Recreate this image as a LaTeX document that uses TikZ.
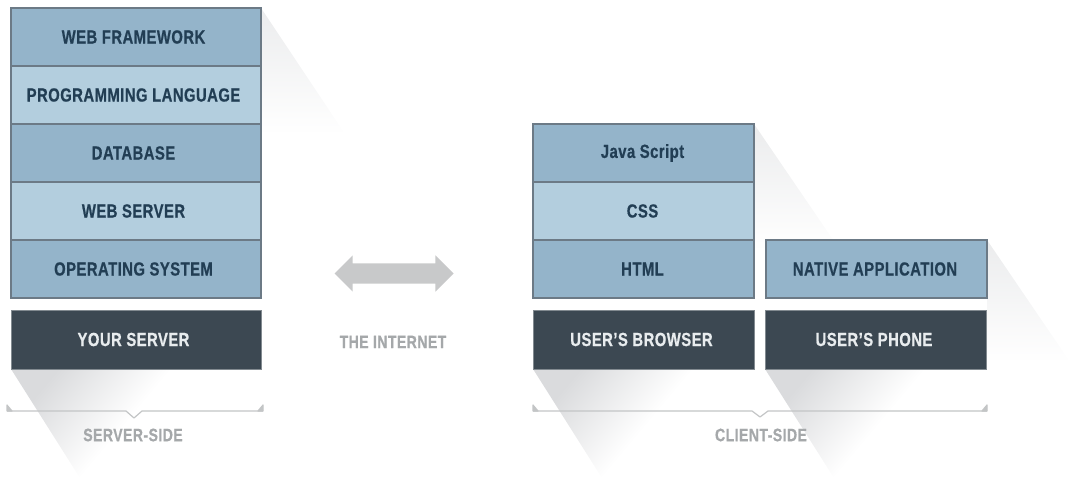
\documentclass[tikz,border=0pt]{standalone}
\usepackage{fontspec}
\setmainfont[FakeStretch=0.78, LetterSpace=2.5, BoldFeatures={FakeBold=0.6}]{Liberation Sans}
\usetikzlibrary{fadings,shapes.arrows}
\begin{document}
\begin{tikzpicture}[
    x=1pt, y=-1pt,
    box/.style={rectangle, minimum height=58pt, inner sep=0pt, line width=2pt,
                draw={rgb,255: red,108; green,122; blue,134},
                font=\fontsize{19}{22}\selectfont\bfseries, text={rgb,255: red,34; green,62; blue,84}},
    wide/.style={box, minimum width=250pt, execute at end node=\hspace{5pt}},
    narrow/.style={box, minimum width=221pt, execute at end node=\hspace{2pt}},
    box1/.style={fill={rgb,255: red,148; green,180; blue,202}},
    box2/.style={fill={rgb,255: red,179; green,206; blue,222}},
    base/.style={rectangle, minimum height=59pt, inner sep=0pt, line width=1pt,
                 fill={rgb,255: red,60; green,72; blue,82}, draw={rgb,255: red,130; green,138; blue,144},
                 font=\fontsize{19}{22}\selectfont\bfseries, text={rgb,255: red,232; green,236; blue,238}},
    caption/.style={font=\fontsize{18}{22}\selectfont\bfseries, text={rgb,255: red,165; green,168; blue,170}},
    sideshadow/.style={fill={rgb,255: red,205; green,207; blue,210}, path fading=south, opacity=.4},
    lowshadow/.style={top color={rgb,255: red,218; green,219; blue,221}, bottom color=white, middle color=white, shading angle=50},
    bracket/.style={draw={rgb,255: red,195; green,197; blue,198}, line width=1.2pt, line join=round},
    bracketend/.style={bracket, fill={rgb,255: red,195; green,197; blue,198}}
]
\useasboundingbox (0,0) rectangle (1083,478);

% shadows first
\fill [sideshadow] (261,8) -- (345,134) -- (261,134) -- cycle;
\fill [sideshadow] (754,124) -- (840,250) -- (754,250) -- cycle;
\fill [sideshadow] (987,240) -- (1070,362) -- (987,362) -- cycle;
\shade [lowshadow] (11,369) -- (80,478) -- (240,478) -- (240,369) -- cycle;
\shade [lowshadow] (533,369) -- (602,478) -- (762,478) -- (762,369) -- cycle;
\shade [lowshadow] (765,369) -- (834,478) -- (994,478) -- (994,369) -- cycle;

% server side
\node (framework) [wide, box1] at (136, 37) {WEB FRAMEWORK};
\node (language) [wide, box2] at (136, 95) {PROGRAMMING LANGUAGE};
\node (database) [wide, box1] at (136, 153) {DATABASE};
\node (webserver) [wide, box2] at (136, 211) {WEB SERVER};
\node (system) [wide, box1] at (136, 269) {OPERATING SYSTEM};
\node (server) [base, minimum width=250pt, execute at end node=\hspace{5pt}] at (136, 339.5) {YOUR SERVER};

% client side
\node (script) [narrow, box1] at (643.5, 153) {Java Script};
\node (css) [narrow, box2] at (643.5, 211) {CSS};
\node (html) [narrow, box1] at (643.5, 269) {HTML};
\node (native) [narrow, box1] at (876, 269) {NATIVE APPLICATION};
\node (browser) [base, minimum width=221pt, execute at end node=\hspace{4pt}] at (643.5, 339.5) {USER'S BROWSER};
\node (phone) [base, minimum width=221pt, execute at end node=\hspace{4pt}] at (876, 339.5) {USER'S PHONE};

% internet
\node (link) [double arrow, fill={rgb,255: red,200; green,201; blue,202}, minimum width=36pt,
              minimum height=119pt, inner sep=0pt, text height=20pt, text depth=0pt, text width=0pt,
              double arrow head extend=8pt] at (394, 273.5) {};
\node (internet) [caption] at (393, 342) {THE INTERNET};

% brackets
\draw [bracket] (7,411) -- (126,411) -- (134,418) -- (142,411) -- (263,411);
\draw [bracket] (533,411) -- (752,411) -- (760,417) -- (768,411) -- (987,411);
\draw [bracketend] (7,405) -- (7,411) -- (12,411) -- cycle;
\draw [bracketend] (263,405) -- (263,411) -- (258,411) -- cycle;
\draw [bracketend] (533,405) -- (533,411) -- (538,411) -- cycle;
\draw [bracketend] (987,405) -- (987,411) -- (982,411) -- cycle;
\node (serverside) [caption] at (133, 435) {SERVER-SIDE};
\node (clientside) [caption] at (761, 435) {CLIENT-SIDE};
\end{tikzpicture}
\end{document}
